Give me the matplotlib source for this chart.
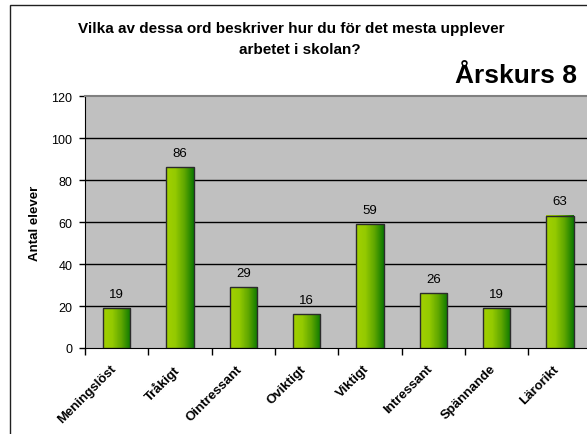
import numpy as np
import matplotlib
matplotlib.use("Agg")
import matplotlib.pyplot as plt
import matplotlib.transforms as mtransforms
from matplotlib.colors import LinearSegmentedColormap
from matplotlib.patches import Rectangle

categories = ['Meningslöst', 'Tråkigt', 'Ointressant', 'Oviktigt',
              'Viktigt', 'Intressant', 'Spännande', 'Lärorikt']
counts = [19, 86, 29, 16, 59, 26, 19, 63]
yticks = [0, 20, 40, 60, 80, 100, 120]

plt.rcParams['font.family'] = ['Liberation Sans', 'DejaVu Sans']

W, H = 587, 435
fig = plt.figure(figsize=(W / 100, H / 100), dpi=100)
fig.patch.set_facecolor('white')

# chart border (the right and bottom edges fall outside the picture)
fig.add_artist(Rectangle((10 / W, -0.1), 1.2, (H - 6) / H + 0.1,
                         transform=fig.transFigure, fill=False,
                         edgecolor='#202020', linewidth=1.0))

left, right = 85 / W, 591.6 / W
bottom, top = (H - 349) / H, (H - 97) / H
ax = fig.add_axes([left, bottom, right - left, top - bottom])
ax.set_facecolor('#c0c0c0')

x = np.arange(len(categories))
width = 0.43
bars = ax.bar(x, counts, width=width, facecolor='none',
              edgecolor='#2b2b2b', linewidth=1.0, zorder=4)

cmap = LinearSegmentedColormap.from_list(
    'grn', ['#a2d000', '#94ca00', '#5ea600', '#0b7800'])
grad = np.linspace(0, 1, 64).reshape(1, -1)
for b in bars:
    x0, y0 = b.get_x(), b.get_y()
    ax.imshow(grad, cmap=cmap, aspect='auto', zorder=3,
              extent=[x0, x0 + b.get_width(), y0, y0 + b.get_height()])

for xi, v in zip(x, counts):
    ax.text(xi, v + 4, str(v), ha='center', va='bottom', fontsize=9.5)

ax.set_xlim(-0.5, len(categories) - 0.5)
ax.set_ylim(0, 120)
ax.set_yticks(yticks)
ax.set_yticklabels([str(t) for t in yticks], fontsize=9)
for t in yticks[1:-1]:
    ax.axhline(t, color='black', linewidth=1.0, zorder=1)

ax.set_xticks(x)
ax.set_xticklabels(categories, rotation=45, ha='right',
                   rotation_mode='anchor', fontsize=9.5, fontweight='bold')
ax.set_xticks(np.arange(len(categories) + 1) - 0.5, minor=True)
ax.tick_params(axis='x', which='major', length=0, pad=9)
ax.tick_params(axis='x', which='minor', length=5, width=1, direction='out')
ax.tick_params(axis='y', length=4, width=1, direction='out', pad=5)

# nudge the slanted labels a little to the left, after tick_params
shift = mtransforms.ScaledTranslation(-7 / 100, -2 / 100, fig.dpi_scale_trans)
for tick in ax.xaxis.get_major_ticks():
    tick.label1.set_transform(tick.label1.get_transform() + shift)

for s in ['top', 'right']:
    ax.spines[s].set_color('#808080')
    ax.spines[s].set_linewidth(1.5)
ax.spines['left'].set_color('black')
ax.spines['bottom'].set_color('black')

ax.set_ylabel('Antal elever', fontsize=9.5, fontweight='bold')
ax.yaxis.set_label_coords(-44 / (591.6 - 85), 0.5)

fig.text(291 / W, (H - 29) / H,
         'Vilka av dessa ord beskriver hur du för det mesta upplever',
         ha='center', va='center', fontsize=11, fontweight='bold')
fig.text(300 / W, (H - 50) / H, 'arbetet i skolan?',
         ha='center', va='center', fontsize=11, fontweight='bold')
fig.text(577 / W, (H - 83) / H, 'Årskurs 8', ha='right', va='baseline',
         fontsize=19, fontweight='bold')

fig.savefig('out.png', dpi=100)
